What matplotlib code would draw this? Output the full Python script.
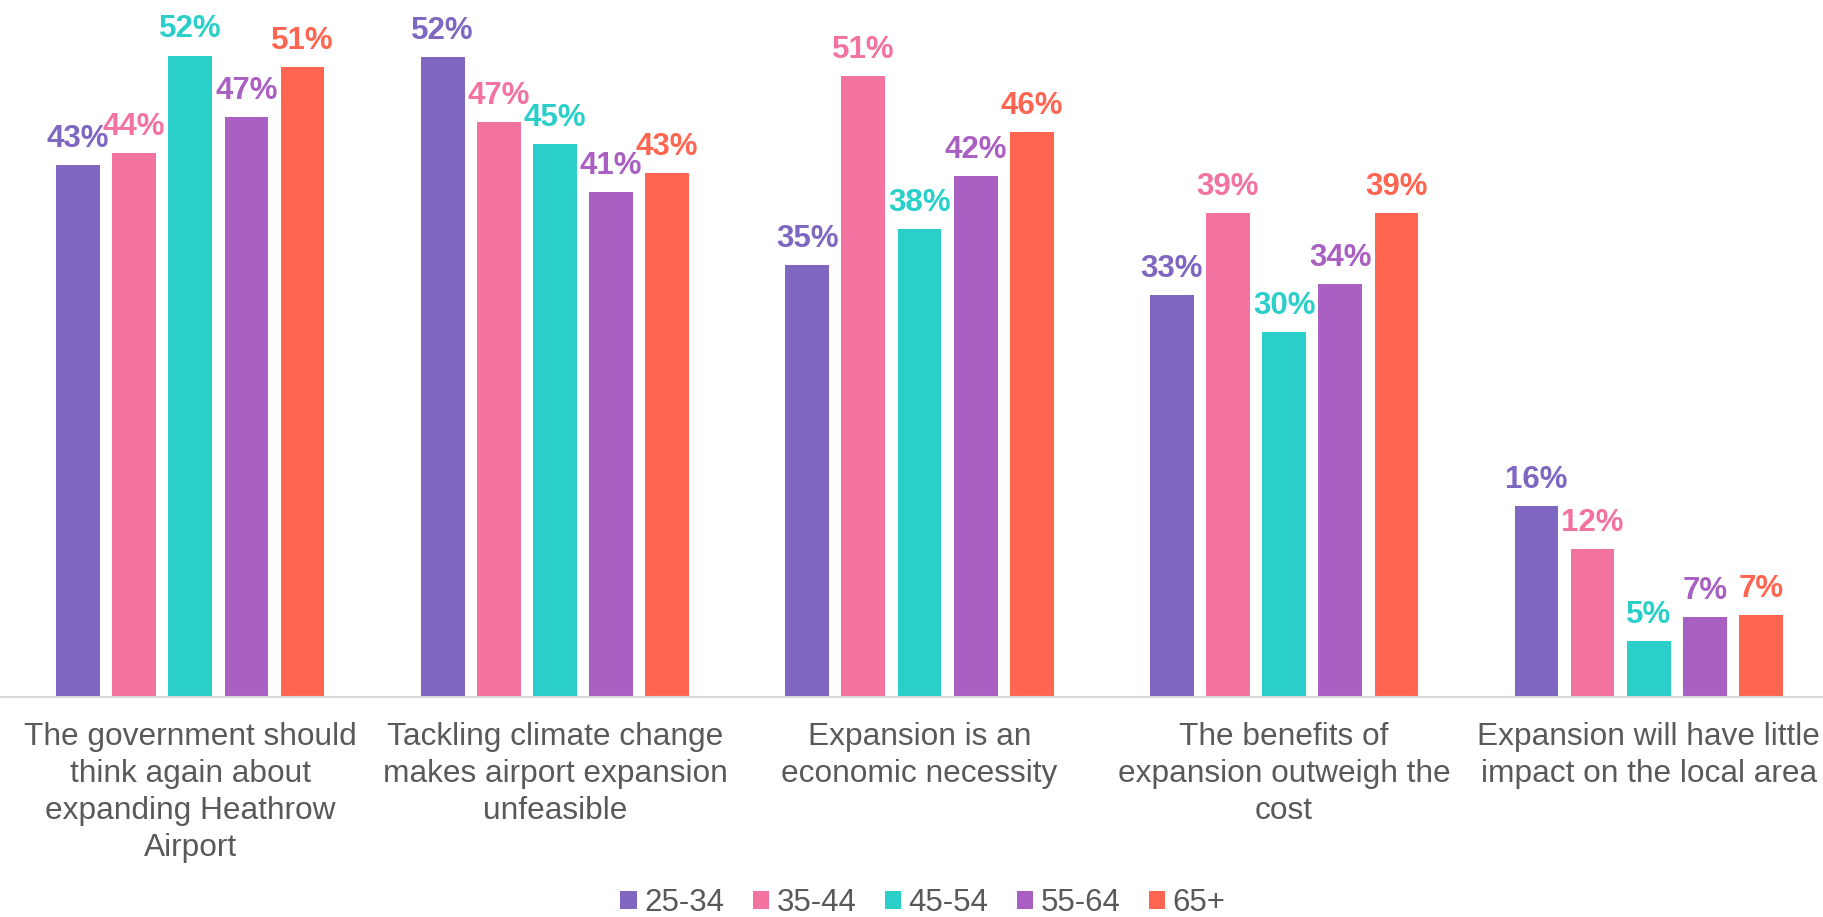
import matplotlib.pyplot as plt
import numpy as np

plt.rcParams['font.family'] = ['Liberation Sans', 'DejaVu Sans']

categories = [
    "The government should\nthink again about\nexpanding Heathrow\nAirport",
    "Tackling climate change\nmakes airport expansion\nunfeasible",
    "Expansion is an\neconomic necessity",
    "The benefits of\nexpansion outweigh the\ncost",
    "Expansion will have little\nimpact on the local area",
]
groups = ["25-34", "35-44", "45-54", "55-64", "65+"]
colors = ["#7E66C1", "#F272A0", "#2ACFC9", "#AA60C3", "#FF6550"]

# bar heights and the printed labels
heights = {
    "25-34": [43.1, 51.9, 35.0, 32.6, 15.5],
    "35-44": [44.1, 46.6, 50.3, 39.2, 12.0],
    "45-54": [52.0, 44.8, 37.9, 29.6, 4.5],
    "55-64": [47.0, 40.9, 42.2, 33.5, 6.5],
    "65+":   [51.1, 42.5, 45.8, 39.2, 6.65],
}
labels = {
    "25-34": [43, 52, 35, 33, 16],
    "35-44": [44, 47, 51, 39, 12],
    "45-54": [52, 45, 38, 30, 5],
    "55-64": [47, 41, 42, 34, 7],
    "65+":   [51, 43, 46, 39, 7],
}

fig = plt.figure(figsize=(18.23, 9.17), dpi=100)
ax = fig.add_axes([0, 1 - 697 / 917, 1, 697 / 917])

x = np.arange(len(categories))
w = 0.12
pitch = 0.154
for i, g in enumerate(groups):
    pos = x + (i - 2) * pitch
    ax.bar(pos, heights[g], width=w, color=colors[i], label=g)
    for px, h, lab in zip(pos, heights[g], labels[g]):
        ax.text(px, h + 0.9, f"{lab}%", ha="center", va="bottom",
                fontsize=22.5, fontweight="bold", color=colors[i])

ax.set_xlim(-0.522, len(categories) - 0.522)
ax.set_ylim(0, 56.5)
ax.set_yticks([])
ax.set_xticks(x)
ax.set_xticklabels(categories, fontsize=22.8, color="#595959", linespacing=1.3)
ax.tick_params(axis="x", length=0, pad=18)
for s in ["top", "right", "left"]:
    ax.spines[s].set_visible(False)
ax.spines["bottom"].set_color("#D9D9D9")
ax.spines["bottom"].set_linewidth(1.5)

fig.legend(loc="center", bbox_to_anchor=(923 / 1823, 1 - 903 / 917), ncol=5, frameon=False,
           fontsize=22.5, handlelength=0.52, handleheight=0.52, handletextpad=0.25,
           columnspacing=0.9, labelcolor="#595959", borderpad=0)

fig.savefig("out.png", dpi=100)
